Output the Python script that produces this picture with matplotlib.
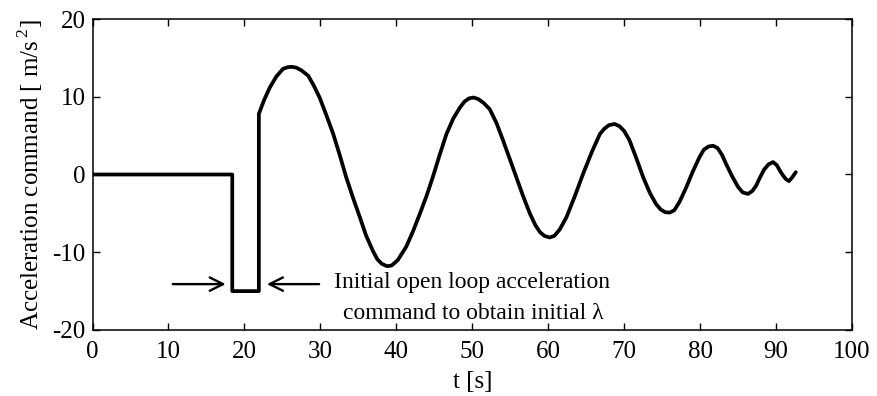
import matplotlib
matplotlib.use("Agg")
import matplotlib.pyplot as plt

plt.rcParams['font.family'] = ['Liberation Serif', 'DejaVu Serif']
plt.rcParams['axes.unicode_minus'] = False
plt.rcParams['mathtext.fontset'] = 'custom'
plt.rcParams['mathtext.rm'] = 'Liberation Serif'

# Acceleration command history [s], [m/s^2]
t_s = [0.0, 18.4, 18.4, 21.9, 21.9, 22.6, 23.35, 24.2, 25.1, 25.7, 26.2, 26.8,
       27.5, 28.4, 29.1, 29.9, 30.8, 31.7, 32.55, 33.4, 34.3, 35.2, 36.0, 36.9,
       37.5, 38.1, 38.8, 39.4, 40.2, 41.3, 42.2, 43.1, 44.0, 44.8, 45.7, 46.6,
       47.5, 48.4, 49.0, 49.6, 50.2, 50.8, 51.5, 52.3, 53.2, 54.05, 54.9, 55.8,
       56.7, 57.6, 58.3, 58.9, 59.5, 60.2, 60.8, 61.5, 62.4, 63.5, 64.6, 65.7,
       66.8, 67.4, 68.0, 68.75, 69.4, 70.0, 70.7, 71.6, 72.5, 73.4, 74.2, 74.8,
       75.4, 76.0, 76.6, 77.3, 78.2, 79.0, 79.9, 80.5, 81.1, 81.7, 82.3, 82.9,
       83.4, 84.2, 85.0, 85.6, 86.3, 86.9, 87.4, 87.8, 88.4, 89.0, 89.6, 90.1,
       90.5, 90.9, 91.3, 91.7, 92.1, 92.6]
accel_cmd = [0.0, 0.0, -15.0, -15.0, 7.8, 9.6, 11.2, 12.6, 13.6, 13.8, 13.85, 13.75,
             13.4, 12.7, 11.5, 9.9, 7.6, 5.2, 2.5, -0.35, -3.0, -5.5, -7.8, -9.8,
             -10.9, -11.5, -11.8, -11.7, -11.0, -9.3, -7.3, -5.05, -2.7, -0.35, 2.5, 5.2,
             7.2, 8.65, 9.4, 9.8, 9.9, 9.7, 9.2, 8.4, 6.6, 4.4, 2.1, -0.35,
             -2.8, -5.05, -6.5, -7.4, -7.9, -8.1, -7.9, -7.1, -5.5, -2.8, 0.1, 2.8,
             5.2, 5.9, 6.35, 6.5, 6.2, 5.6, 4.4, 2.1, -0.35, -2.4, -3.8, -4.5,
             -4.85, -4.9, -4.6, -3.5, -1.6, 0.3, 2.2, 3.2, 3.6, 3.7, 3.4, 2.5,
             1.4, -0.2, -1.6, -2.3, -2.5, -2.1, -1.4, -0.55, 0.6, 1.3, 1.6, 1.2,
             0.5, -0.1, -0.6, -0.85, -0.4, 0.3]

x_ticks = [0, 10, 20, 30, 40, 50, 60, 70, 80, 90, 100]
y_ticks = [-20, -10, 0, 10, 20]

fig = plt.figure(figsize=(8.77, 3.96), dpi=100)
ax = fig.add_axes([0.1055, 0.1667, 0.866, 0.7853])

ax.plot(t_s, accel_cmd, color='black', linewidth=2.7,
        solid_joinstyle='round', solid_capstyle='round')

ax.set_xlim(0, 100)
ax.set_ylim(-20, 20)
ax.set_xticks(x_ticks)
ax.set_yticks(y_ticks)
ax.tick_params(direction='in', length=5, width=1, top=True, right=True,
               labelsize=18)
ax.tick_params(axis='x', pad=8)
ax.tick_params(axis='y', pad=5)
for sp in ax.spines.values():
    sp.set_linewidth(1.1)

ax.set_xlabel('t [s]', fontsize=18, labelpad=6)
ax.set_ylabel(r'Acceleration command [ m/s$^{\,2}$]', fontsize=18, labelpad=5)

# arrows marking the open-loop pulse
arrow_kw = dict(arrowstyle='->', color='black', lw=1.7, mutation_scale=24)
ax.annotate('', xy=(17.9, -14.1), xytext=(10.2, -14.1), arrowprops=arrow_kw)
ax.annotate('', xy=(22.6, -14.1), xytext=(30.2, -14.1), arrowprops=arrow_kw)

ax.text(49.9, -13.9, 'Initial open loop acceleration',
        ha='center', va='center', fontsize=17)
ax.text(50.1, -17.9, 'command to obtain initial λ',
        ha='center', va='center', fontsize=17)

fig.savefig('out.png', dpi=100)
